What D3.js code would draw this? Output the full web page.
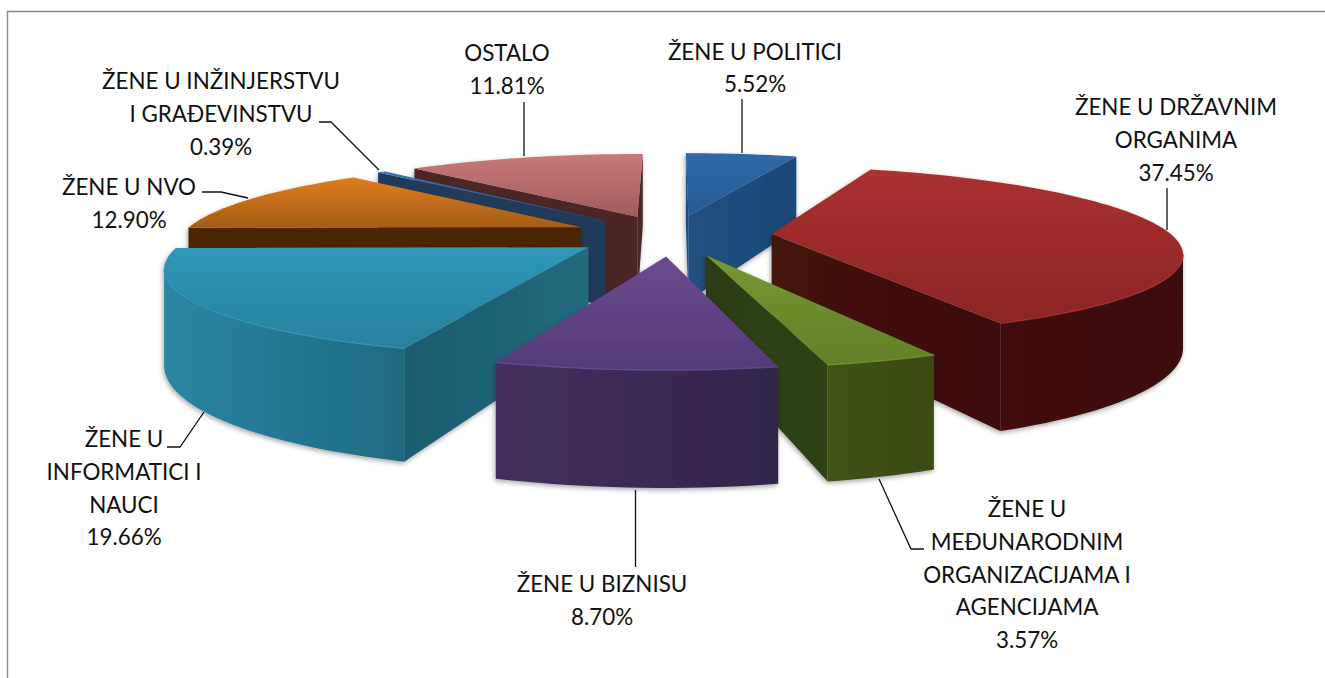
<!DOCTYPE html>
<html><head><meta charset="utf-8">
<script src="https://cdn.jsdelivr.net/npm/d3@7"></script>
<style>html,body{margin:0;padding:0;background:#fff;overflow:hidden}svg{display:block}text{font-family:Lato,"Open Sans",sans-serif;fill:#111}</style>
</head><body><div id="c"></div>
<script>
// --- data ---
const categories = ["ŽENE U POLITICI","ŽENE U DRŽAVNIM ORGANIMA","ŽENE U MEĐUNARODNIM ORGANIZACIJAMA I AGENCIJAMA","ŽENE U BIZNISU","ŽENE U INFORMATICI I NAUCI","ŽENE U NVO","ŽENE U INŽINJERSTVU I GRAĐEVINSTVU","OSTALO"];
const values = [5.52,37.45,3.57,8.70,19.66,12.90,0.39,11.81];
const labelLines = [["ŽENE U POLITICI"],["ŽENE U DRŽAVNIM","ORGANIMA"],["ŽENE U","MEĐUNARODNIM","ORGANIZACIJAMA I","AGENCIJAMA"],["ŽENE U BIZNISU"],["ŽENE U","INFORMATICI I","NAUCI"],["ŽENE U NVO"],["ŽENE U INŽINJERSTVU","I GRAĐEVINSTVU"],["OSTALO"]];
// --- layout & style (separate from data) ---
const W=1325,H=678;
const labelAt=[[755,59.5],[1176,115],[1027,517],[602,592],[124,447],[129,195],[221,89],[507,61]];
const leaders=[
 [[742,99],[742,153]],
 [[1167,188],[1167,230]],
 [[879,479],[911,549],[924,549]],
 [[635.5,490],[635.5,567]],
 [[167,447],[180,447],[204,412]],
 [[202,192],[221,192],[248,198]],
 [[319,122],[331,122],[379,170]],
 [[524,102],[524,156]]];
const palette=[
 {top:["#2e68a8","#275a92"],outer:["#1f4f82","#1f4f82"],side:["#21507f","#1c4878"]},
 {top:["#ab3030","#8b2525"],outer:["#42110e","#3a0f0d"],side:["#45120f","#3d0f0d"]},
 {top:["#76982f","#637f2b"],outer:["#405219","#3b4b18"],side:["#2c3d12","#2f4213"]},
 {top:["#6a4b8e","#553a78"],outer:["#442f5e","#32254a"],side:["#3a2a55","#3a2a55"]},
 {top:["#2e98b7","#29809c"],outer:["#2a85a2","#1f6a81"],side:["#1d5b6e","#216a7e"]},
 {top:["#e07c1c","#a35e18"],outer:["#4a2606","#4a2606"],side:["#4a2606","#4a2606"]},
 {top:["#3a72ad","#2a5c90"],outer:["#23395a","#23395a"],side:["#243a5a","#243a5a"]},
 {top:["#c97a78","#a05c5c"],outer:["#4e2828","#4e2828"],side:["#4e2828","#4e2828"]}];
const drawOrder=[0,7,6,5,1,4,2,3];
const cx=672,cy=235,Rx=400,Ry=81.6,persp=0.196,explode=0.25,depth=89;

const svg=d3.select("#c").append("svg").attr("width",W).attr("height",H);
const defs=svg.append("defs");
const grad=(id,c,x2,y2)=>{const g=defs.append("linearGradient").attr("id",id).attr("x1",0).attr("y1",0).attr("x2",x2).attr("y2",y2);
  g.append("stop").attr("offset",0).attr("stop-color",c[0]);g.append("stop").attr("offset",1).attr("stop-color",c[1]);};
palette.forEach((p,i)=>{grad("t"+i,p.top,0,1);grad("o"+i,p.outer,1,0);grad("s"+i,p.side,1,0);});
const f=defs.append("filter").attr("id","sh").attr("x","-10%").attr("y","-10%").attr("width","120%").attr("height","120%");
f.append("feDropShadow").attr("dx",-1).attr("dy",2).attr("stdDeviation",2.5).attr("flood-color","#000").attr("flood-opacity",.35);

// frame
svg.append("path").attr("d",d3.line()([[7.5,H],[7.5,11.5],[W,11.5]])).attr("fill","none").attr("stroke","#8c8c8c").attr("stroke-width",1.4);

const pie=d3.pie().sort(null).startAngle(0).endAngle(2*Math.PI);
const arcs=pie(values);
const sx=d3.scaleLinear().domain([0,1]).range([cx,cx+Rx]);
const sy=d3.scaleLinear().domain([0,1]).range([cy,cy-Ry]);
const proj=(u,v,z)=>{const w=1+persp*v;return [sx(u/w),sy(v/w)+z*depth/w];};
const line=d3.line();
const poly=pts=>line(pts)+"Z";
const g=svg.append("g");

drawOrder.forEach(i=>{
  const a=arcs[i],m=(a.startAngle+a.endAngle)/2;
  const ox=explode*Math.sin(m),oy=explode*Math.cos(m);
  const n=Math.max(2,Math.ceil((a.endAngle-a.startAngle)/0.03));
  const rimA=d3.range(n+1).map(k=>a.startAngle+(a.endAngle-a.startAngle)*k/n);
  const P=(t,z)=>proj(ox+Math.sin(t),oy+Math.cos(t),z);
  const A=z=>proj(ox,oy,z);
  const gg=g.append("g").attr("filter","url(#sh)");
  // radial walls
  const s0=P(a.startAngle,0),s1=P(a.endAngle,0),c0=A(0);
  if(s0[0]<c0[0]) gg.append("path").attr("d",poly([A(0),s0,P(a.startAngle,1),A(1)])).attr("fill",`url(#s${i})`);
  if(s1[0]>c0[0]) gg.append("path").attr("d",poly([A(0),s1,P(a.endAngle,1),A(1)])).attr("fill",`url(#s${i})`);
  // outer wall: only the camera-facing run of the rim
  const front=rimA.filter((t,k)=>{const p=P(t,0),q=k<n?P(rimA[k+1],0):null,o=k>0?P(rimA[k-1],0):null;return (q&&q[0]<p[0])||(o&&p[0]<o[0]);});
  if(front.length>1){
    const top=front.map(t=>P(t,0)),bot=front.map(t=>P(t,1)).reverse();
    gg.append("path").attr("d",poly(top.concat(bot))).attr("fill",`url(#o${i})`);
  }
  // top
  const rim=rimA.map(t=>P(t,0));
  gg.append("path").attr("d",poly([A(0)].concat(rim))).attr("fill",`url(#t${i})`);
  // light bevel along the rim
  if(front.length>1) gg.append("path").attr("d",line(front.map(t=>P(t,0)))).attr("fill","none").attr("stroke",palette[i].top[0]).attr("stroke-width",1.5).attr("opacity",.8);
});

// leaders
svg.append("g").selectAll("path").data(leaders).join("path").attr("d",d=>line(d)).attr("fill","none").attr("stroke","#111").attr("stroke-width",1.3);

// labels
const lh=32.8;
arcs.forEach((a,i)=>{
  const t=svg.append("text").attr("text-anchor","middle").attr("font-size",22.4);
  const lines=labelLines[i].concat([values[i].toFixed(2)+"%"]);
  lines.forEach((s,k)=>t.append("tspan").attr("x",labelAt[i][0]).attr("y",labelAt[i][1]+k*lh).text(s));
});
</script></body></html>
